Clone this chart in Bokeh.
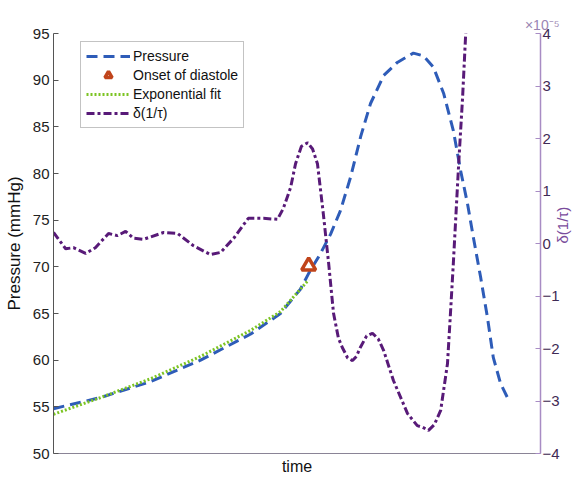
import math
from bokeh.plotting import figure
from bokeh.models import Range1d, LinearAxis, FixedTicker, Legend, LegendItem, Title
from bokeh.embed import file_html
from bokeh.resources import INLINE

# ---- data (time in arbitrary units 0..100) ----
pressure_t = [0.0, 9.7, 19.9, 30.2, 40.5, 46.6, 50.7, 52.4, 54.8, 56.9, 58.9, 61.0, 63.1, 65.1,
              67.8, 70.6, 73.9, 76.0, 78.0, 80.1, 82.1, 83.6, 85.0, 86.2, 87.7, 89.1, 90.3, 91.8, 93.2]
pressure_v = [54.8, 56.0, 57.7, 60.0, 62.8, 65.0, 67.6, 69.3, 71.4, 73.5, 76.0, 79.6, 84.0, 87.5,
              90.5, 91.9, 92.9, 92.6, 91.4, 88.6, 84.6, 80.3, 76.8, 73.2, 68.9, 64.6, 60.3, 57.5, 56.0]

fit_t = [0.0, 9.7, 19.9, 30.2, 40.5, 46.6, 52.4]
fit_v = [54.2, 56.0, 58.0, 60.4, 63.2, 65.2, 68.6]

onset_t = [52.4]
onset_v = [70.1]

delta_t = [0.0, 2.5, 4.1, 6.6, 8.6, 11.3, 13.1, 14.8, 16.4, 18.5, 22.6, 25.5, 28.7, 32.2, 34.3,
           37.0, 40.0, 43.1, 46.0, 47.2, 48.7, 49.7, 50.9, 52.2, 53.2, 54.2, 55.4, 56.5, 57.5,
           58.5, 59.3, 60.4, 61.4, 62.2, 63.0, 64.3, 65.5, 66.7, 67.8, 69.8, 72.7, 74.7, 75.8,
           77.0, 78.2, 79.5, 80.9, 81.5, 82.1, 83.2, 84.0, 84.6, 85.0]
delta_v = [0.21, -0.10, -0.08, -0.19, -0.08, 0.19, 0.15, 0.23, 0.10, 0.08, 0.21, 0.19, -0.04, -0.21,
           -0.17, 0.10, 0.48, 0.48, 0.46, 0.67, 1.07, 1.52, 1.85, 1.92, 1.80, 1.52, 0.57, -0.38,
           -1.33, -1.80, -1.98, -2.18, -2.23, -2.15, -1.98, -1.76, -1.71, -1.82, -2.04, -2.61,
           -3.24, -3.47, -3.50, -3.56, -3.45, -3.18, -2.29, -1.35, -0.38, 1.52, 2.78, 3.92, 4.5]

left_ticks = [50, 55, 60, 65, 70, 75, 80, 85, 90, 95]
right_ticks = [-4, -3, -2, -1, 0, 1, 2, 3, 4]

X_MIN, X_MAX = 0, 100
FONT = "Liberation Sans"
BLUE = "#2e5cb8"
GREEN = "#7cc423"
PURPLE = "#581a78"
ORANGE = "#c0441b"
AXPURPLE = "#a88cc4"

p = figure(width=582, height=480, output_backend="svg", toolbar_location=None,
           x_range=Range1d(X_MIN, X_MAX), y_range=Range1d(50, 95),
           min_border_left=53, min_border_right=30, min_border_top=33, min_border_bottom=27)
p.extra_y_ranges = {"delta": Range1d(-4, 4)}
p.xgrid.visible = False
p.ygrid.visible = False
p.outline_line_color = None
p.background_fill_color = "white"
p.border_fill_color = "white"

# exponent as a title above the frame
p.add_layout(Title(text="×10⁻⁵", align="right", offset=-19, text_font=FONT,
                   text_font_size="14px", text_font_style="normal", text_color="#9a85b3",
                   standoff=2), "above")

# left axis
ya = p.yaxis[0]
ya.ticker = FixedTicker(ticks=left_ticks)
ya.axis_label = "Pressure (mmHg)"
ya.axis_label_text_font = FONT
ya.axis_label_text_font_style = "normal"
ya.axis_label_text_font_size = "17px"
ya.axis_label_text_color = "#111111"
ya.major_label_text_font = FONT
ya.major_label_text_font_size = "15px"
ya.major_label_text_color = "#222222"
ya.major_tick_in = 5
ya.major_tick_out = 0
ya.minor_tick_line_color = None
ya.axis_line_color = "#555555"
ya.major_tick_line_color = "#555555"
ya.axis_label_standoff = 6
ya.major_label_standoff = 4

# bottom axis
xa = p.xaxis[0]
xa.ticker = FixedTicker(ticks=[])
xa.axis_label = "time"
xa.axis_label_text_font = FONT
xa.axis_label_text_font_style = "normal"
xa.axis_label_text_font_size = "16px"
xa.axis_label_text_color = "#111111"
xa.axis_line_color = "#8a8496"
xa.minor_tick_line_color = None
xa.major_tick_line_color = None
xa.axis_label_standoff = 4

# right axis
ra = LinearAxis(y_range_name="delta", ticker=FixedTicker(ticks=right_ticks))
ra.axis_label = "δ(1/τ)"
ra.axis_label_text_font = FONT
ra.axis_label_text_font_style = "normal"
ra.axis_label_text_font_size = "15px"
ra.axis_label_text_color = "#7a4c9c"
ra.axis_label_standoff = 0
ra.major_label_text_font = FONT
ra.major_label_text_font_size = "15px"
ra.major_label_text_color = "#3f2a55"
ra.major_tick_in = 5
ra.major_tick_out = 0
ra.minor_tick_line_color = None
ra.axis_line_color = AXPURPLE
ra.major_tick_line_color = AXPURPLE
ra.axis_line_width = 1.5
ra.major_label_standoff = 2
if "axis_label_orientation" in ra.properties():
    ra.axis_label_orientation = math.pi / 2
p.add_layout(ra, "right")

# glyphs
r_p = p.line(pressure_t, pressure_v, line_color=BLUE, line_width=3, line_dash="11 6")
r_f = p.line(fit_t, fit_v, line_color=GREEN, line_width=3, line_dash="2 2")
r_o = p.scatter(onset_t, onset_v, marker="triangle", size=14, fill_color="white",
                line_color=ORANGE, line_width=3.5)
r_d = p.line(delta_t, delta_v, y_range_name="delta", line_color=PURPLE, line_width=3,
             line_dash="8 3 3 3")

legend = Legend(items=[
    LegendItem(label="Pressure", renderers=[r_p]),
    LegendItem(label="Onset of diastole", renderers=[r_o]),
    LegendItem(label="Exponential fit", renderers=[r_f]),
    LegendItem(label="δ(1/τ)", renderers=[r_d]),
], location=(27, 325))
legend.label_text_font = FONT
legend.label_text_font_size = "14px"
legend.label_text_color = "#111111"
legend.glyph_width = 44
legend.glyph_height = 18
legend.label_height = 18
legend.label_standoff = 3
legend.spacing = 1
legend.padding = 5
legend.margin = 0
legend.border_line_color = "#888888"
legend.border_line_width = 1
legend.background_fill_color = "white"
legend.background_fill_alpha = 1
p.add_layout(legend)

open("out.html", "w").write(file_html(p, INLINE))
